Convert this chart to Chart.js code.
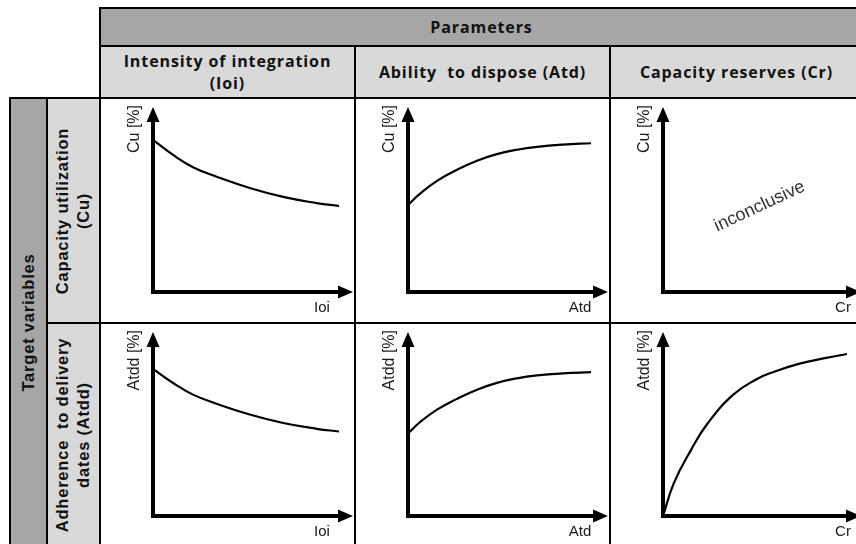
<!DOCTYPE html>
<html><head><meta charset="utf-8">
<script src="https://cdn.jsdelivr.net/npm/chart.js@4/dist/chart.umd.min.js"></script>
<style>
html,body{margin:0;padding:0;background:#fff;}
#root{position:relative;width:856px;height:544px;overflow:hidden;background:#fff;}
.cell{position:absolute;box-sizing:border-box;border:2px solid #000;display:flex;align-items:center;justify-content:center;text-align:center;color:#111;overflow:visible;}
.dark{background:#a6a6a6;}
.light{background:#d9d9d9;}
.white{background:#fff;}
.colhead{font-family:"Open Sans",sans-serif;font-weight:700;font-size:16px;line-height:22px;letter-spacing:0.9px;white-space:pre;}
.rowhead{font-family:"Liberation Sans",Arial,sans-serif;font-weight:700;font-size:16.5px;line-height:21px;letter-spacing:0.8px;white-space:pre;display:block;transform:rotate(-90deg);}
canvas{position:absolute;}
</style></head>
<body><div id="root"></div>
<script>
// ---- data ----
const topHeader = "Parameters";
const columnHeaders = ["Intensity of integration\n(Ioi)", "Ability  to dispose (Atd)", "Capacity reserves (Cr)"];
const sideHeader = "Target variables";
const rowHeaders = ["Capacity utilization\n(Cu)", "Adherence  to delivery\ndates (Atdd)"];
const xLabels = ["Ioi", "Atd", "Cr"];
const yLabels = ["Cu [%]", "Atdd [%]"];
const noteText = "inconclusive";

// Cu vs Ioi
const cuIoiX = [0, 11, 21.5, 34.5, 52, 70, 88, 100];
const cuIoiY = [89, 80, 73, 67.3, 60.8, 55.6, 52, 50.3];
// Cu vs Atd
const cuAtdX = [0, 6.5, 15.6, 26.3, 37.1, 47.8, 58.6, 69.4, 83.3, 98.4];
const cuAtdY = [50.9, 57.5, 65, 71.5, 76.8, 80.6, 83.2, 84.9, 86.2, 87];
// Cu vs Cr (inconclusive, no curve)
const cuCrX = [];
const cuCrY = [];
// Atdd vs Ioi
const atddIoiX = [0, 11, 21.5, 34.5, 52, 70, 88, 100];
const atddIoiY = [86.5, 78.1, 71.4, 65.9, 59.7, 54.7, 51.3, 49.7];
// Atdd vs Atd
const atddAtdX = [0, 6.5, 15.6, 26.3, 37.1, 47.8, 58.6, 69.4, 83.3, 98.4];
const atddAtdY = [48.5, 55.3, 62.6, 68.9, 74.3, 78.3, 81, 82.7, 83.9, 84.6];
// Atdd vs Cr
const atddCrX = [0, 5.9, 15.1, 24.2, 38.2, 51.1, 59.7, 74.2, 88.7, 100];
const atddCrY = [0, 19.3, 38.6, 54.4, 71.4, 80.6, 84.6, 89.6, 93, 95.3];

// ---- layout ----
const colX = [100, 355, 610, 863];
const rowY = [98, 323, 547];
const headY = [8, 46, 98];
const sideX = [10, 47, 100];

const root = document.getElementById('root');
function cell(x0, y0, x1, y1, cls, inner) {
  const d = document.createElement('div');
  d.className = 'cell ' + cls;
  d.style.left = (x0 - 1) + 'px';
  d.style.top = (y0 - 1) + 'px';
  d.style.width = (x1 - x0 + 2) + 'px';
  d.style.height = (y1 - y0 + 2) + 'px';
  if (inner) d.appendChild(inner);
  root.appendChild(d);
  return d;
}
function span(cls, text) {
  const s = document.createElement('span');
  s.className = cls;
  s.textContent = text;
  return s;
}

cell(colX[0], headY[0], colX[3], headY[1], 'dark', span('colhead', topHeader));
for (let c = 0; c < 3; c++) cell(colX[c], headY[1], colX[c + 1], headY[2], 'light', span('colhead', columnHeaders[c]));
cell(sideX[0], rowY[0], sideX[1], rowY[2], 'dark', span('rowhead', sideHeader));
for (let r = 0; r < 2; r++) cell(sideX[1], rowY[r], sideX[2], rowY[r + 1], 'light', span('rowhead', rowHeaders[r]));
for (let r = 0; r < 2; r++) for (let c = 0; c < 3; c++) cell(colX[c], rowY[r], colX[c + 1], rowY[r + 1], 'white', null);

const arrowAxes = {
  id: 'arrowAxes',
  afterDraw(chart, args, opts) {
    const ctx = chart.ctx;
    const xs = chart.scales.x, ys = chart.scales.y;
    const L = xs.getPixelForValue(0), R = xs.getPixelForValue(100);
    const B = ys.getPixelForValue(0), T = ys.getPixelForValue(100);
    ctx.save();
    ctx.fillStyle = '#000';
    ctx.beginPath(); ctx.moveTo(L - 6.5, T + 1); ctx.lineTo(L + 6.5, T + 1); ctx.lineTo(L, T - 14); ctx.closePath(); ctx.fill();
    ctx.beginPath(); ctx.moveTo(R - 1, B - 6.5); ctx.lineTo(R - 1, B + 6.5); ctx.lineTo(R + 14, B); ctx.closePath(); ctx.fill();
    ctx.fillStyle = '#1a1a1a';
    ctx.font = '16px "Liberation Sans", Arial, sans-serif';
    ctx.save();
    ctx.translate(L - 18, T - 16);
    ctx.rotate(-Math.PI / 2);
    ctx.textAlign = 'right'; ctx.textBaseline = 'middle';
    ctx.fillText(opts.yLabel, 0, 0);
    ctx.restore();
    ctx.font = '15px "Liberation Sans", Arial, sans-serif';
    ctx.textAlign = 'center'; ctx.textBaseline = 'alphabetic';
    ctx.fillText(opts.xLabel, R + opts.xLabelDx, B + 20);
    if (opts.note) {
      ctx.save();
      ctx.translate(xs.getPixelForValue(opts.note.x), ys.getPixelForValue(opts.note.y));
      ctx.rotate(-25 * Math.PI / 180);
      ctx.font = '18px "Liberation Sans", Arial, sans-serif';
      ctx.fillStyle = '#333';
      ctx.textAlign = 'center'; ctx.textBaseline = 'middle';
      ctx.fillText(opts.note.text, 0, 0);
      ctx.restore();
    }
    ctx.restore();
  }
};

const specs = [
  {c: 0, r: 0, xs: cuIoiX, ys: cuIoiY, xl: xLabels[0], yl: yLabels[0], dx: -17},
  {c: 1, r: 0, xs: cuAtdX, ys: cuAtdY, xl: xLabels[1], yl: yLabels[0], dx: -14},
  {c: 2, r: 0, xs: cuCrX, ys: cuCrY, xl: xLabels[2], yl: yLabels[0], dx: -4, note: {text: noteText, x: 52.5, y: 50}},
  {c: 0, r: 1, xs: atddIoiX, ys: atddIoiY, xl: xLabels[0], yl: yLabels[1], dx: -17},
  {c: 1, r: 1, xs: atddAtdX, ys: atddAtdY, xl: xLabels[1], yl: yLabels[1], dx: -14},
  {c: 2, r: 1, xs: atddCrX, ys: atddCrY, xl: xLabels[2], yl: yLabels[1], dx: -4}
];

specs.forEach(s => {
  const cv = document.createElement('canvas');
  const w = colX[s.c + 1] - colX[s.c], h = rowY[s.r + 1] - rowY[s.r];
  cv.width = w; cv.height = h;
  cv.style.left = colX[s.c] + 'px'; cv.style.top = rowY[s.r] + 'px';
  cv.style.width = w + 'px'; cv.style.height = h + 'px';
  root.appendChild(cv);
  const pts = s.xs.map((x, i) => ({x: x, y: s.ys[i]}));
  const axis = {
    type: 'linear', min: 0, max: 100,
    ticks: {display: false},
    grid: {display: false, drawTicks: false},
    border: {display: true, color: '#000', width: 4}
  };
  new Chart(cv, {
    type: 'line',
    data: {datasets: [{data: pts, borderColor: '#000', borderWidth: 2.2, pointRadius: 0, fill: false, tension: 0.45}]},
    options: {
      responsive: false, animation: false, events: [],
      layout: {padding: {left: 53, right: 16, top: 23, bottom: 31}},
      plugins: {legend: {display: false}, tooltip: {enabled: false},
        arrowAxes: {xLabel: s.xl, yLabel: s.yl, xLabelDx: s.dx, note: s.note || null}},
      scales: {x: Object.assign({position: 'bottom'}, axis), y: Object.assign({position: 'left'}, axis)}
    },
    plugins: [arrowAxes]
  });
});
</script>
</body></html>
